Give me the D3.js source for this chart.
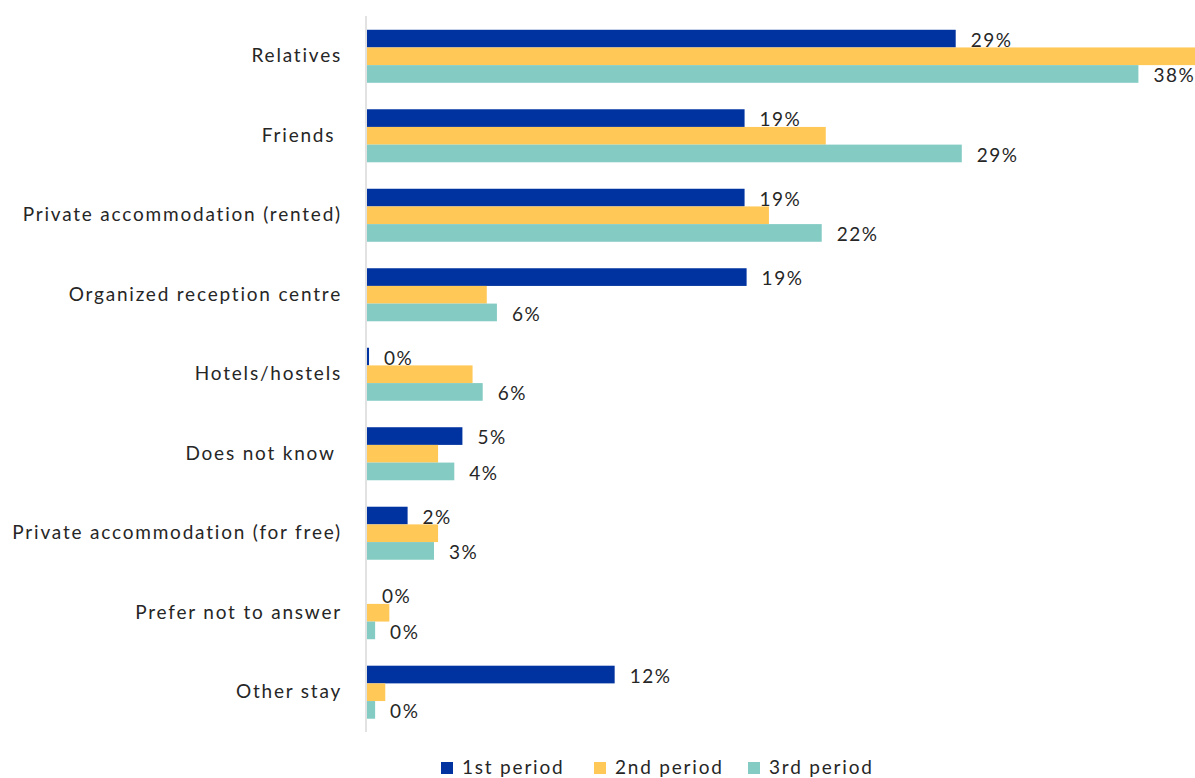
<!DOCTYPE html>
<html>
<head>
<meta charset="utf-8">
<script src="https://cdn.jsdelivr.net/npm/d3@7"></script>
<style>
  html, body { margin: 0; padding: 0; background: #fff; }
  svg { display: block; font-family: Lato, "Open Sans", sans-serif; }
  text { white-space: pre; letter-spacing: 1.8px; }
  text.value { letter-spacing: 1.5px; }
</style>
</head>
<body>
<svg id="chart" width="1195" height="778"></svg>
<script>
// Where people stay, share of respondents (%) by survey period
const categories = [
  "Relatives",
  "Friends ",
  "Private accommodation (rented)",
  "Organized reception centre",
  "Hotels/hostels",
  "Does not know ",
  "Private accommodation (for free)",
  "Prefer not to answer",
  "Other stay"
];
const seriesNames = ["1st period", "2nd period", "3rd period"];
const period1 = [29.0, 18.6, 18.6, 18.7, 0.1, 4.7, 2.0, 0.0, 12.2];
const period2 = [44.0, 22.6, 19.8, 5.9, 5.2, 3.5, 3.5, 1.1, 0.9];
const period3 = [38.0, 29.3, 22.4, 6.4, 5.7, 4.3, 3.3, 0.4, 0.4];
const colors = ["#0033a0", "#ffc857", "#84cbc4"];
// Only the 1st and 3rd periods carry value labels
const labelled = [true, false, true];

const seriesValues = [period1, period2, period3];

const svg = d3.select("#chart");
const axisX = 366;

const y = d3.scaleBand()
  .domain(categories)
  .range([16.5, 732])
  .paddingInner(0.333)
  .paddingOuter(0.167);

const ySub = d3.scaleBand()
  .domain(seriesNames)
  .range([0, y.bandwidth()]);

const x = d3.scaleLinear()
  .domain([0, 40])
  .range([axisX, axisX + 40 * 20.3]);

// Bars
const groups = svg.append("g")
  .selectAll("g")
  .data(categories)
  .join("g")
  .attr("transform", d => `translate(0,${y(d)})`);

seriesNames.forEach((s, si) => {
  groups.append("rect")
    .attr("x", x(0) + 1)
    .attr("y", ySub(s))
    .attr("width", (d, i) => Math.max(0, x(seriesValues[si][i]) - x(0)))
    .attr("height", ySub.bandwidth())
    .attr("fill", colors[si]);
});

// Value labels
const fmt = v => Math.round(v) + "%";
seriesNames.forEach((s, si) => {
  if (!labelled[si]) return;
  groups.append("text")
    .attr("class", "value")
    .attr("x", (d, i) => x(seriesValues[si][i]) + 16)
    .attr("y", ySub(s) + ySub.bandwidth() - 0.5)
    .attr("font-size", 19)
    .attr("fill", "#262626")
    .text((d, i) => fmt(seriesValues[si][i]));
});

// Category axis
svg.append("line")
  .attr("x1", axisX).attr("x2", axisX)
  .attr("y1", 16).attr("y2", 732)
  .attr("stroke", "#d9d9d9")
  .attr("stroke-width", 1.5);

const yAxis = d3.axisLeft(y).tickSize(0).tickPadding(24);
const axisG = svg.append("g")
  .attr("transform", `translate(${axisX},0)`)
  .call(yAxis);
axisG.select(".domain").remove();
axisG.selectAll("text")
  .attr("font-size", 19)
  .attr("font-family", "Lato, 'Open Sans', sans-serif")
  .attr("fill", "#262626");

// Legend
const legendX = [441, 594, 748];
const legend = svg.append("g")
  .selectAll("g")
  .data(seriesNames)
  .join("g")
  .attr("transform", (d, i) => `translate(${legendX[i]},762)`);
legend.append("rect")
  .attr("width", 12).attr("height", 12)
  .attr("fill", (d, i) => colors[i]);
legend.append("text")
  .attr("x", 21).attr("y", 12)
  .attr("font-size", 19)
  .attr("fill", "#262626")
  .text(d => d);
</script>
</body>
</html>
